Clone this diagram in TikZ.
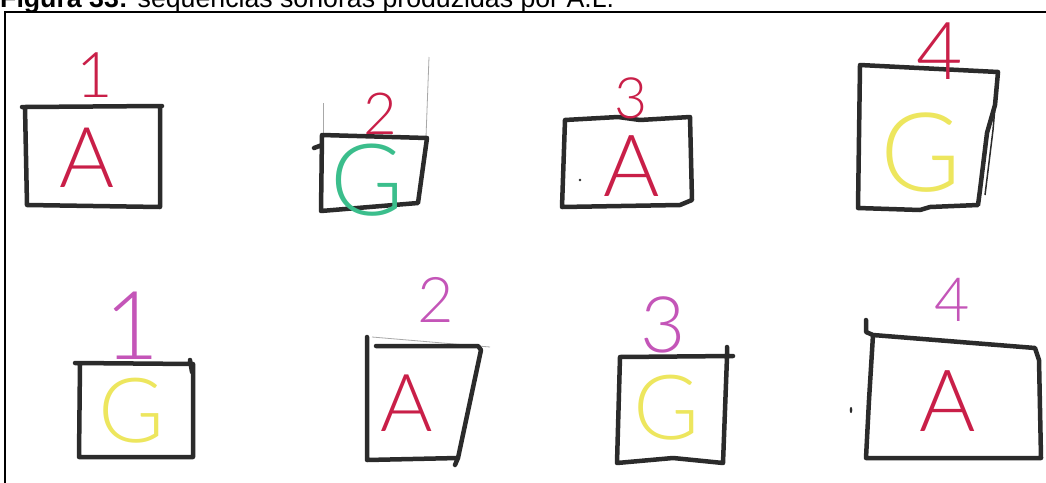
\documentclass[tikz,border=0pt]{standalone}
\usepackage{fontspec}
\setmainfont{Liberation Sans}
\IfFontExistsTF{Lato Light}{\newfontfamily\handfont{Lato Light}}{\newfontfamily\handfont{Liberation Sans}}
\newcommand\hf[1]{\handfont\fontsize{#1}{#1}\selectfont}
\definecolor{ink}{HTML}{2B2B2B}
\definecolor{mred}{HTML}{C91F48}
\definecolor{mmag}{HTML}{C455B8}
\definecolor{myel}{HTML}{EDE65E}
\definecolor{mgrn}{HTML}{3BBE8C}
\definecolor{pencil}{HTML}{A8A8A8}
\begin{document}
\begin{tikzpicture}[x=1pt,y=-1pt,
  box/.style={draw=ink, line width=4.5pt, line join=round, line cap=round},
  thin/.style={draw=pencil, line width=0.8pt},
  glyph/.style={inner sep=0pt, outer sep=0pt},
  redtxt/.style={glyph, text=mred},
  magtxt/.style={glyph, text=mmag},
  yeltxt/.style={glyph, text=myel},
  grntxt/.style={glyph, text=mgrn}]
\path[use as bounding box] (0,0) rectangle (1046,482);
\clip (0,0) rectangle (1046,482);
\fill[white] (0,0) rectangle (1046,482);
% caption and frame
\node[anchor=base west, inner sep=0pt, font=\fontsize{26.7}{30}\selectfont] (cap) at (0,7)
  {\textbf{Figura 33:} sequências sonoras produzidas por A.L.};
\draw[line width=2pt] (5,12) rectangle (1060,500);

% ---- row 1 ----
% box 1
\draw[box] (22,107) -- (25,107) -- (160,106) -- (162,106)
  (25,107) -- (27,205) -- (160,207) -- (160,106);
\node[redtxt, font=\hf{63}] (r1n1) at (95,75) {1};
\node[redtxt, font=\hf{84}] (r1c1) at (87,158) {A};
% box 2
\draw[thin] (323,103) -- (323,134);
\draw[thin] (429,57) -- (426,137);
\draw[box] (314,148) -- (322,145) (322,135) -- (427,138) -- (418,203) -- (321,211) -- cycle;
\node[redtxt, font=\hf{58}] (r1n2) at (380,114) {2};
\node[grntxt, font=\hf{100}] (r1c2) at (367,180) {G};
% box 3
\draw[box] (565,120) -- (618,117) -- (640,120) -- (690,117) -- (692,200) -- (680,205)
  -- (562,207) -- cycle;
\fill[ink] (580,180) circle (1.3);
\node[redtxt, font=\hf{57}] (r1n3) at (631,98) {3};
\node[redtxt, font=\hf{86}] (r1c3) at (632,166) {A};
% box 4
\draw[box] (860,65) -- (998,72) -- (995,105) -- (987,133) -- (980,190) -- (978,205)
  -- (930,207) -- (920,210) -- (858,208) -- cycle;
\draw[ink, line width=1.5pt] (998,72) -- (993,130) -- (985,195);
\node[redtxt, font=\hf{80}] (r1n4) at (940,51) {4};
\node[yeltxt, font=\hf{110}] (r1c4) at (921,153) {G};

% ---- row 2 ----
% box 1
\draw[box] (75,363) -- (193,364) (190,360) -- (192,372)
  (80,363) -- (79,457) -- (193,457) -- (193,364);
\node[magtxt, font=\hf{95}] (r2n1) at (132,326) {1};
\node[yeltxt, font=\hf{90}] (r2c1) at (132,411) {G};
% box 2
\draw[thin] (372,337) -- (490,347);
\draw[box] (376,346) -- (478,346) -- (481,350) -- (458,458) -- (455,465)
  (367,337) -- (367,460) -- (458,458);
\node[magtxt, font=\hf{63}] (r2n2) at (436,300) {2};
\node[redtxt, font=\hf{80}] (r2c2) at (407,403) {A};
% box 3
\draw[box] (620,357) -- (733,356) (727,347) -- (727,357) -- (723,463) -- (673,458)
  -- (617,463) -- (620,357);
\node[magtxt, font=\hf{78}] (r2n3) at (663,325) {3};
\node[yeltxt, font=\hf{90}] (r2c3) at (667,408) {G};
% box 4
\draw[box] (866,320) -- (866,332) -- (873,335) -- (1035,348) -- (1039,360) -- (1041,458)
  -- (866,458) -- (869,400) -- (873,335);
\fill[ink] (851,410) ellipse (1.3 and 3);
\node[magtxt, font=\hf{61}] (r2n4) at (952,300) {4};
\node[redtxt, font=\hf{86}] (r2c4) at (948,401) {A};
\end{tikzpicture}
\end{document}
